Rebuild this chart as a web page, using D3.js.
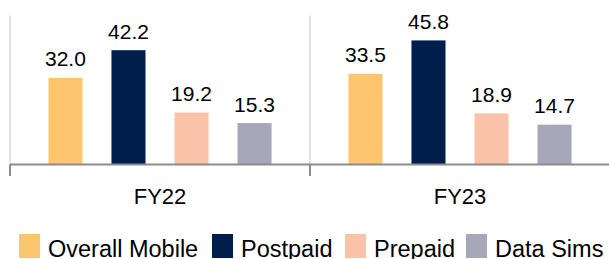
<!DOCTYPE html>
<html>
<head>
<meta charset="utf-8">
<script src="https://cdn.jsdelivr.net/npm/d3@7"></script>
<style>
  body { margin: 0; background: #fff; }
  text { font-family: "Liberation Sans", Arial, sans-serif; fill: #000; }
</style>
</head>
<body>
<div id="canvas"></div>
<script>
// Data
var years = ["FY22", "FY23"];
var series = ["Overall Mobile", "Postpaid", "Prepaid", "Data Sims"];
var overallMobile = [32.0, 33.5];
var postpaid = [42.2, 45.8];
var prepaid = [19.2, 18.9];
var dataSims = [15.3, 14.7];
var colors = ["#FDC66E", "#001E4B", "#FAC3A9", "#A8A7BA"];

var values = [overallMobile, postpaid, prepaid, dataSims];
var data = [];
years.forEach(function(y, i) {
    series.forEach(function(s, j) {
        data.push({year: y, series: s, value: values[j][i]});
    });
});

// Define canvas attribute
var width = 609;
var height = 259;

var svg = d3.select("#canvas")
        .append("svg")
            .attr("width", width)
            .attr("height", height);

// Scales
var x0 = d3.scaleBand()
        .domain(years)
        .range([10, 610]);
var x1 = d3.scaleBand()
        .domain(series)
        .range([0, x0.bandwidth()])
        .paddingInner(0.46)
        .paddingOuter(0.61);
var y = d3.scaleLinear()
        .domain([0, 55])
        .range([164.5, 15.5]);
var color = d3.scaleOrdinal()
        .domain(series)
        .range(colors);

// Light separators between categories
svg.append("g")
    .selectAll("line")
    .data(years)
    .join("line")
        .attr("x1", d => x0(d))
        .attr("x2", d => x0(d))
        .attr("y1", y(55))
        .attr("y2", y(0))
        .attr("stroke", "#d9d9d9")
        .attr("stroke-width", 1.5);

// Bars
svg.append("g")
    .selectAll("rect")
    .data(data)
    .join("rect")
        .attr("x", d => x0(d.year) + x1(d.series))
        .attr("y", d => y(d.value))
        .attr("width", x1.bandwidth())
        .attr("height", d => y(0) - y(d.value))
        .attr("fill", d => color(d.series));

// Value labels
svg.append("g")
    .selectAll("text")
    .data(data)
    .join("text")
        .attr("x", d => x0(d.year) + x1(d.series) + x1.bandwidth() / 2)
        .attr("y", d => y(d.value) - 11.5)
        .attr("text-anchor", "middle")
        .style("font-size", "21px")
        .text(d => d.value.toFixed(1));

// X axis
var xAxis = svg.append("g")
        .attr("transform", "translate(0," + y(0) + ")")
        .call(d3.axisBottom(x0).tickSize(0).tickPadding(24));
xAxis.select(".domain").remove();
xAxis.selectAll("text")
    .style("font-size", "22px")
    .attr("font-family", null);

svg.append("line")
    .attr("x1", 10)
    .attr("x2", width)
    .attr("y1", y(0))
    .attr("y2", y(0))
    .attr("stroke", "#8c8c8c")
    .attr("stroke-width", 2);

// Category ticks below the axis
svg.append("g")
    .selectAll("line")
    .data(years)
    .join("line")
        .attr("x1", d => x0(d))
        .attr("x2", d => x0(d))
        .attr("y1", y(0))
        .attr("y2", 176)
        .attr("stroke", "#8c8c8c")
        .attr("stroke-width", 2);

// Legend
var legendX = [19, 212, 345, 466];
var legend = svg.append("g")
        .selectAll("g")
        .data(series)
        .join("g")
            .attr("transform", (d, i) => "translate(" + legendX[i] + ",234)");
legend.append("rect")
    .attr("width", 21)
    .attr("height", 24)
    .attr("fill", d => color(d));
legend.append("text")
    .attr("x", 29)
    .attr("y", 22.5)
    .style("font-size", "23.5px")
    .text(d => d);
</script>
</body>
</html>
